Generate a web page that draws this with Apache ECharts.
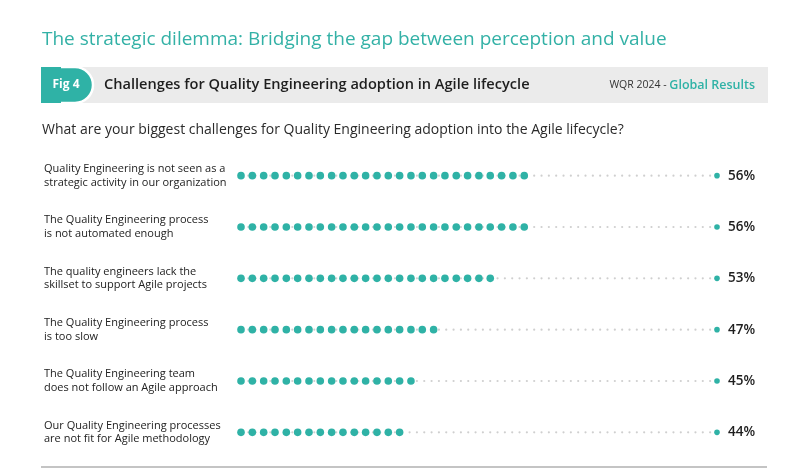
<!DOCTYPE html>
<html>
<head>
<meta charset="utf-8">
<script src="https://cdn.jsdelivr.net/npm/echarts@6/dist/echarts.min.js"></script>
<style>html,body{margin:0;padding:0;background:#fff;}#c{width:790px;height:472px;}</style>
</head>
<body>
<div id="c"></div>
<script>
var categories = [
  'Quality Engineering is not seen as a\nstrategic activity in our organization',
  'The Quality Engineering process\nis not automated enough',
  'The quality engineers lack the\nskillset to support Agile projects',
  'The Quality Engineering process\nis too slow',
  'The Quality Engineering team\ndoes not follow an Agile approach',
  'Our Quality Engineering processes\nare not fit for Agile methodology'
];
var values = [56, 56, 53, 47, 45, 44];

var TEAL = '#2fb2a6';
var FONT = 'Open Sans';
var chart = echarts.init(document.getElementById('c'), null, {renderer: 'canvas'});

var seriesData = values.map(function (v, i) { return [v, i]; });

chart.setOption({
  animation: false,
  grid: {left: 241, right: 73, top: 150, bottom: 14},
  xAxis: {type: 'value', min: 27.5, max: 75.1, show: false},
  yAxis: {
    type: 'category', data: categories, inverse: true,
    axisLine: {show: false}, axisTick: {show: false}, splitLine: {show: false},
    axisLabel: {align: 'left', margin: 197, fontFamily: FONT, fontSize: 11, lineHeight: 13.5, color: '#222', padding: [3, 0, 0, 0]}
  },
  graphic: [
    {type: 'text', left: 42, top: 30, style: {text: 'The strategic dilemma: Bridging the gap between perception and value', font: '400 19px "Open Sans"', fill: '#33b1a6'}},
    {type: 'rect', shape: {x: 41, y: 67, width: 727, height: 36}, style: {fill: '#ebebeb'}},
    {type: 'rect', shape: {x: 41, y: 67, width: 52, height: 36, r: [0, 18, 18, 0]}, style: {fill: TEAL, stroke: '#fff', lineWidth: 2.5}},
    {type: 'rect', shape: {x: 41, y: 67, width: 20, height: 36}, style: {fill: TEAL}},
    {type: 'text', x: 66, y: 85, style: {text: 'Fig 4', font: '700 12px "Open Sans"', fill: '#fff', align: 'center', verticalAlign: 'middle'}},
    {type: 'text', x: 104, y: 85, style: {text: 'Challenges for Quality Engineering adoption in Agile lifecycle', font: '600 14.6px "Open Sans"', fill: '#1e1e1e', verticalAlign: 'middle'}},
    {type: 'text', x: 755, y: 85, style: {
      text: '{a|WQR 2024 - }{b|Global Results}', align: 'right', verticalAlign: 'middle',
      rich: {a: {fontFamily: FONT, fontSize: 10.5, fill: '#333', color: '#333'}, b: {fontFamily: FONT, fontSize: 12.5, fontWeight: 600, color: TEAL, fill: TEAL}}
    }},
    {type: 'text', x: 42, y: 130, style: {text: 'What are your biggest challenges for Quality Engineering adoption into the Agile lifecycle?', font: '400 14px "Open Sans"', fill: '#2a2a2a', verticalAlign: 'middle'}},
    {type: 'line', shape: {x1: 41, y1: 467, x2: 767, y2: 467}, style: {stroke: '#b0b0b0', lineWidth: 1.5}}
  ],
  series: [{
    type: 'custom',
    data: seriesData,
    encode: {x: 0, y: 1},
    renderItem: function (params, api) {
      var cs = params.coordSys;
      var start = cs.x;
      var end = cs.x + cs.width;
      var pt = api.coord([api.value(0), api.value(1)]);
      var yc = pt[1];
      var children = [];
      var x;
      for (x = start; x < end - 4; x += 7.33) {
        children.push({type: 'circle', shape: {cx: x, cy: yc, r: 1.1}, style: {fill: '#cfcfcf'}});
      }
      for (x = start; x <= pt[0] + 0.5; x += 11.33) {
        children.push({type: 'circle', shape: {cx: x, cy: yc, r: 3.8}, style: {fill: TEAL}});
      }
      children.push({type: 'circle', shape: {cx: end, cy: yc, r: 2.8}, style: {fill: TEAL}});
      children.push({type: 'text', x: end + 11, y: yc, style: {text: api.value(0) + '%', font: '600 13.5px "Open Sans"', fill: '#1e1e1e', verticalAlign: 'middle'}});
      return {type: 'group', children: children};
    }
  }]
});
</script>
</body>
</html>
